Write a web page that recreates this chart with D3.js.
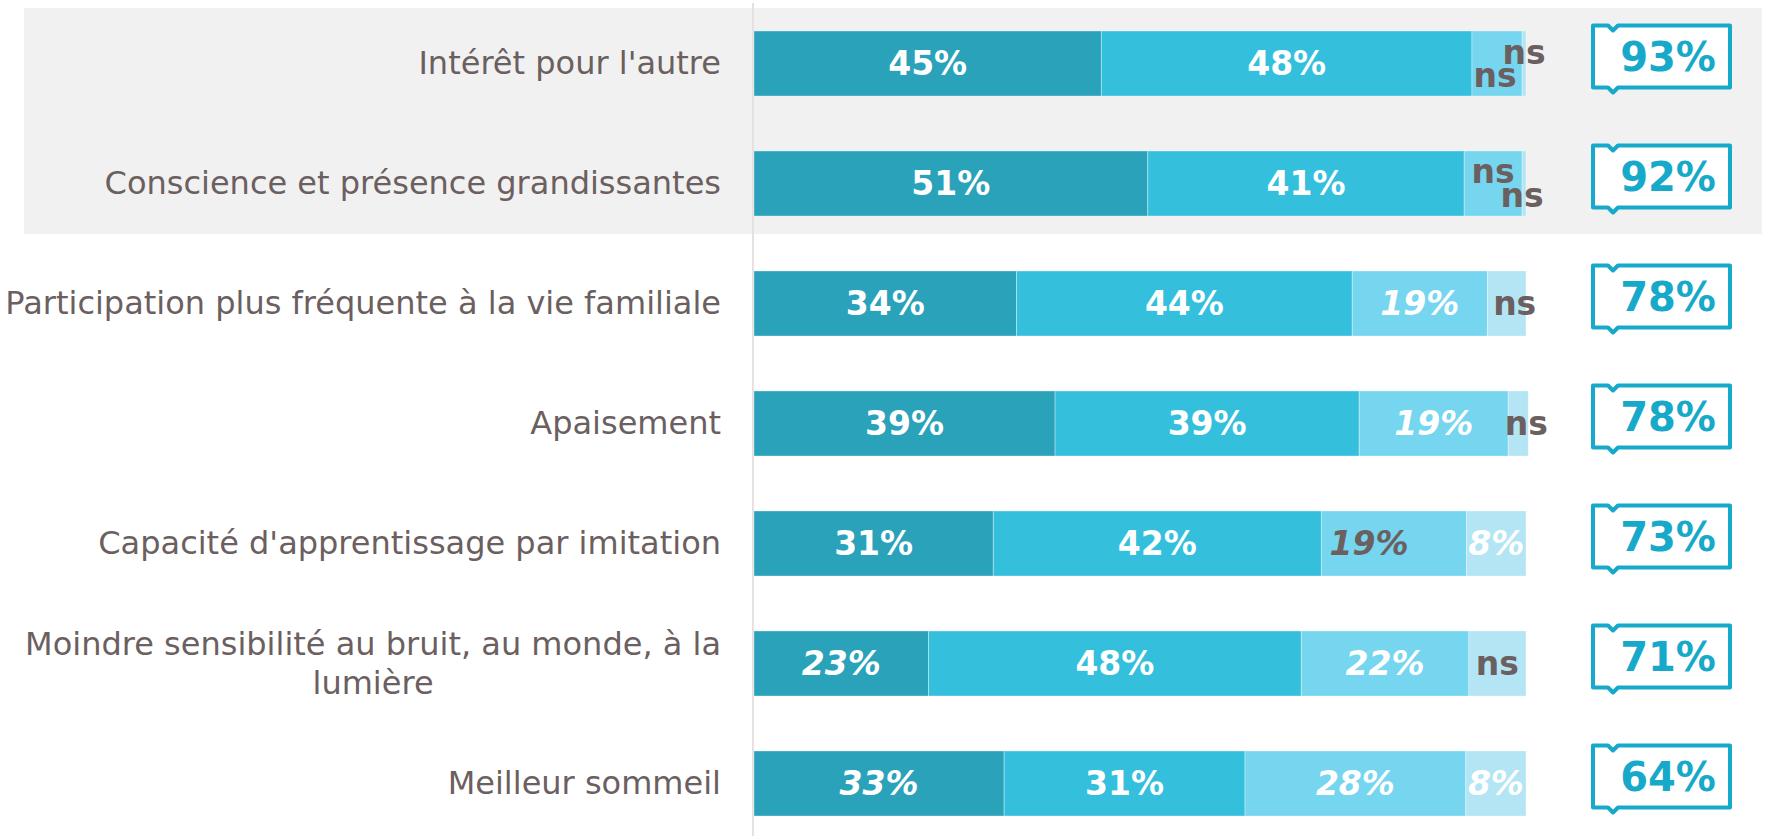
<!DOCTYPE html>
<html>
<head>
<meta charset="utf-8">
<script src="https://cdn.jsdelivr.net/npm/d3@7"></script>
<style>
body { margin: 0; background: #fff; }
svg { display: block; }
text { font-family: "DejaVu Sans", Verdana, sans-serif; }
</style>
</head>
<body>
<div id="chart"></div>
<script>
var width = 1767;
var height = 836;

// categories, top to bottom
var categories = [
	"Intérêt pour l'autre",
	"Conscience et présence grandissantes",
	"Participation plus fréquente à la vie familiale",
	"Apaisement",
	"Capacité d'apprentissage par imitation",
	"Moindre sensibilité au bruit, au monde, à la lumière",
	"Meilleur sommeil"
];

// segment lengths (in % of the bar)
var tout = [45, 51, 34, 39, 31, 22.6, 32.4];
var plutot = [48, 41, 43.5, 39.4, 42.5, 48.3, 31.2];
var peu = [6.5, 7.5, 17.5, 19.3, 18.8, 21.7, 28.6];
var pas = [0.5, 0.5, 5, 2.6, 7.7, 7.4, 7.8];

// labels shown in the segments
var labelsTout = ["45%", "51%", "34%", "39%", "31%", "23%", "33%"];
var labelsPlutot = ["48%", "41%", "44%", "39%", "42%", "48%", "31%"];
var labelsPeu = ["ns", "ns", "19%", "19%", "19%", "22%", "28%"];
var labelsPas = ["ns", "ns", "ns", "ns", "8%", "ns", "8%"];

// totals in the boxes on the right
var totals = [93, 92, 78, 78, 73, 71, 64];

var series = [tout, plutot, peu, pas];
var seriesLabels = [labelsTout, labelsPlutot, labelsPeu, labelsPas];
var colors = ["#2aa2ba", "#34c0dd", "#76d5ef", "#b3e5f5"];
var textGrey = "#6b5f5f";
var boxBlue = "#17a9c9";

// cells in italic, cells in grey, and small label shifts (row-col)
var italicCells = ["2-2", "3-2", "4-2", "4-3", "5-0", "5-2", "6-0", "6-2", "6-3"];
var greyCells = ["4-2"];
var nudges = { "0-2": [-2, 12], "0-3": [0, -11], "1-2": [0, -12], "1-3": [-2, 12], "2-3": [8, 0], "3-3": [8, 0], "4-2": [-25, 0] };

var svg = d3.select("#chart")
	.append("svg")
	.attr("width", width)
	.attr("height", height);

var x = d3.scaleLinear().domain([0, 100]).range([754, 1526]);
var y = d3.scaleBand()
	.domain(categories)
	.range([3.5, 843.5])
	.paddingInner(0.458)
	.paddingOuter(0.229);

var bw = y.bandwidth();

// grey highlight behind the first two rows
svg.append("rect")
	.attr("x", 24)
	.attr("y", y(categories[0]) - 23)
	.attr("width", 1762 - 24)
	.attr("height", y(categories[1]) + bw + 18 - (y(categories[0]) - 23))
	.attr("fill", "#f1f1f1");

// axis line
svg.append("line")
	.attr("x1", 753).attr("x2", 753)
	.attr("y1", 3).attr("y2", height)
	.attr("stroke", "#e6e0e0")
	.attr("stroke-width", 2);

svg.append("clipPath")
	.attr("id", "plotClip")
	.append("rect")
	.attr("x", 754).attr("y", 0)
	.attr("width", 773).attr("height", height);

// build stacked rows
var rows = categories.map(function(c, i) {
	var start = 0;
	return series.map(function(s, j) {
		var seg = { row: i, col: j, cat: c, x0: start, x1: start + s[i], label: seriesLabels[j][i] };
		start += s[i];
		return seg;
	});
});
var segments = [].concat.apply([], rows);

// bars
svg.selectAll(".seg")
	.data(segments)
	.enter()
	.append("rect")
	.attr("class", "seg")
	.attr("x", function(d) { return x(d.x0); })
	.attr("y", function(d) { return y(d.cat); })
	.attr("width", function(d) { return x(d.x1) - x(d.x0); })
	.attr("height", bw)
	.attr("fill", function(d) { return colors[d.col]; })
	.attr("stroke", "rgba(255,255,255,0.35)")
	.attr("stroke-width", 1);

// segment labels
svg.selectAll(".segLabel")
	.data(segments)
	.enter()
	.append("text")
	.attr("class", "segLabel")
	.attr("x", function(d) {
		var n = nudges[d.row + "-" + d.col] || [0, 0];
		return (x(d.x0) + x(d.x1)) / 2 + n[0];
	})
	.attr("y", function(d) {
		var n = nudges[d.row + "-" + d.col] || [0, 0];
		return y(d.cat) + bw / 2 + n[1];
	})
	.attr("dy", "0.36em")
	.attr("text-anchor", "middle")
	.attr("font-size", "33px")
	.attr("font-weight", "bold")
	.attr("font-style", function(d) { return italicCells.indexOf(d.row + "-" + d.col) >= 0 ? "italic" : "normal"; })
	.attr("fill", function(d) {
		if (d.label == "ns" || greyCells.indexOf(d.row + "-" + d.col) >= 0) return textGrey;
		return "#fff";
	})
	.attr("clip-path", function(d) {
		return (d.label == "ns" || greyCells.indexOf(d.row + "-" + d.col) >= 0) ? null : "url(#plotClip)";
	})
	.text(function(d) { return d.label; });

// category labels, wrapped and right aligned
var labelRight = 721;
var maxLabelWidth = 730;
var labelSize = "32px";
categories.forEach(function(c, i) {
	var cy = y(c) + bw / 2;
	var g = svg.append("g");
	var words = c.split(" ");
	var lines = [];
	var line = [];
	var probe = g.append("text").attr("font-size", labelSize);
	words.forEach(function(w) {
		line.push(w);
		probe.text(line.join(" "));
		if (probe.node().getComputedTextLength() > maxLabelWidth && line.length > 1) {
			line.pop();
			lines.push(line.join(" "));
			line = [w];
		}
	});
	lines.push(line.join(" "));
	var widest = 0;
	lines.forEach(function(l) {
		probe.text(l);
		widest = Math.max(widest, probe.node().getComputedTextLength());
	});
	probe.remove();

	var lineHeight = 39;
	var first = cy - (lines.length - 1) * lineHeight / 2;
	g.selectAll("text")
		.data(lines)
		.enter()
		.append("text")
		.attr("x", labelRight - widest / 2)
		.attr("y", function(d, k) { return first + k * lineHeight; })
		.attr("dy", "0.34em")
		.attr("text-anchor", "middle")
		.attr("font-size", labelSize)
		.attr("fill", textGrey)
		.text(function(d) { return d; });
});

// total boxes
var bx0 = 1593, bx1 = 1730;
var boxes = svg.selectAll(".total")
	.data(totals)
	.enter()
	.append("g")
	.attr("class", "total")
	.attr("transform", function(d, i) { return "translate(0," + (y(categories[i]) + bw / 2) + ")"; });

boxes.append("path")
	.attr("d", function() {
		var t = -38, b = 24;
		return "M" + bx0 + "," + t +
			"L" + (bx0 + 15) + "," + t +
			"L" + (bx0 + 20) + "," + (t + 5) +
			"L" + (bx0 + 25) + "," + t +
			"L" + bx1 + "," + t +
			"L" + bx1 + "," + b +
			"L" + (bx0 + 25) + "," + b +
			"L" + (bx0 + 20) + "," + (b + 5) +
			"L" + (bx0 + 15) + "," + b +
			"L" + bx0 + "," + b + "Z";
	})
	.attr("fill", "#fff")
	.attr("stroke", boxBlue)
	.attr("stroke-width", 4)
	.attr("stroke-linejoin", "round");

boxes.append("text")
	.attr("x", 1668)
	.attr("y", -7)
	.attr("dy", "0.36em")
	.attr("text-anchor", "middle")
	.attr("font-size", "40px")
	.attr("font-weight", "bold")
	.attr("fill", boxBlue)
	.text(function(d) { return d + "%"; });
</script>
</body>
</html>
